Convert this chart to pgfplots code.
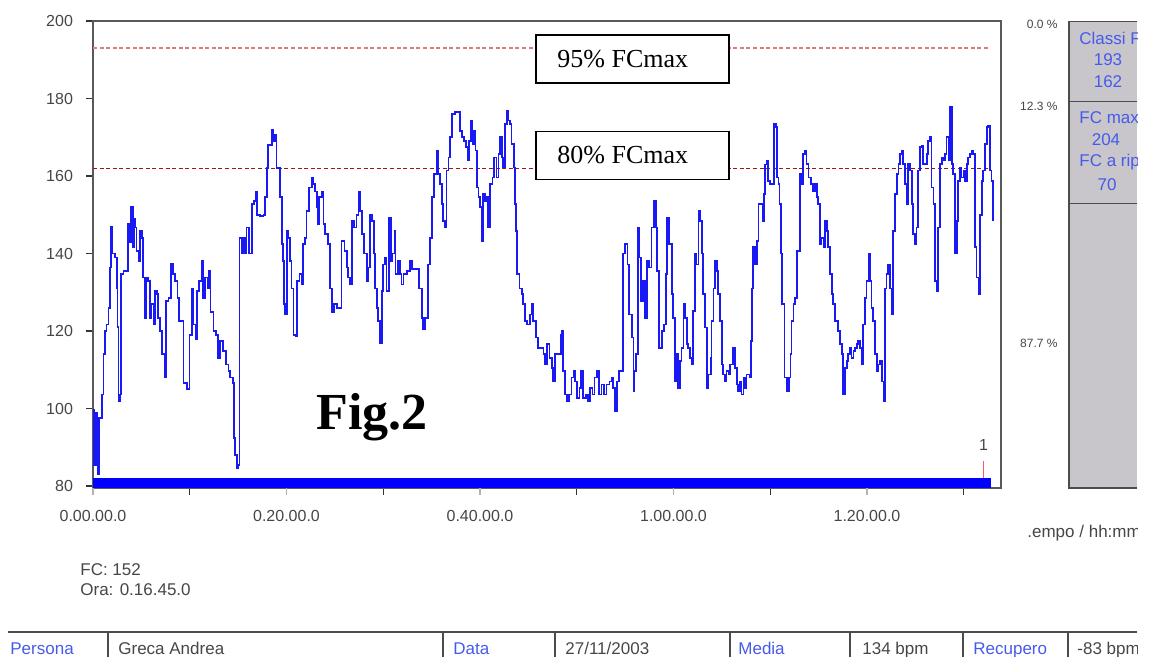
\documentclass[border=0pt]{standalone}
\usepackage{pgfplots}
\pgfplotsset{compat=1.18}
\usepackage{fontspec}
\setmainfont{Liberation Sans}
\newfontfamily\timesf{Liberation Serif}
\definecolor{trace}{RGB}{25,25,245}
\definecolor{panelgray}{RGB}{200,198,203}
\definecolor{labblue}{RGB}{70,90,235}
\definecolor{txtgray}{RGB}{70,70,70}
\definecolor{hiline}{RGB}{215,125,125}
\definecolor{loline}{RGB}{160,20,20}
\begin{document}
\begin{tikzpicture}
\begin{axis}[
  at={(46.5pt,-244pt)}, anchor=south west,
  scale only axis, width=454pt, height=233.5pt,
  xmin=0, xmax=93.85, ymin=79.5, ymax=200,
  ytick={80,100,...,200},
  xtick={10,30,50,70,90}, xticklabels={},
  extra x ticks={0,20,40,60,80},
  extra x tick labels={0.00.00.0,0.20.00.0,0.40.00.0,1.00.00.0,1.20.00.0},
  extra x tick style={tick style={black!30}},
  tick align=outside, tick pos=left,
  major tick length=3.5pt,
  tick style={black!80, line width=0.7pt},
  axis line style={black!65, line width=0.9pt},
  /pgf/number format/assume math mode=true,
  ticklabel style={font=\fontsize{8}{9}\selectfont, text=txtgray},
  yticklabel style={xshift=-3pt},
  xticklabel style={yshift=-4pt},
  clip=true,
]
% zone lines
\addplot[hiline, line width=0.7pt, dash pattern=on 2pt off 1.3pt] coordinates {(0,193) (92.7,193)};
\addplot[loline, line width=0.75pt, dash pattern=on 2pt off 1.3pt] coordinates {(0,162) (92.7,162)};
% time band
\addplot[fill=blue, draw=none] coordinates {(0,82.2) (92.82,82.2)} \closedcycle;
% marker 1
\addplot[red!65, line width=0.5pt] coordinates {(92.06,82.2) (92.06,86.4)};
% heart rate trace
\addplot[trace, line width=0.85pt, const plot] coordinates {
(0.00,99.7) (0.10,85.5) (0.31,99) (0.45,83) (0.65,97.6) (0.90,103.6) (1.07,114) (1.24,120) (1.41,121.7) (1.59,126) (1.76,136.4) (1.86,147) (2.03,140) (2.27,139) (2.45,131) (2.52,121) (2.65,102) (2.79,103.6) (2.89,134.7) (3.14,135.5) (3.48,135.5) (3.65,147.6) (3.82,143) (3.93,152) (4.10,141.6) (4.24,149) (4.38,146.7) (4.51,140.7) (4.69,138) (4.86,145.9) (5.03,144) (5.20,133.8) (5.31,123.4) (5.48,133.8) (5.72,133) (5.89,123.4) (6.06,127) (6.24,121.7) (6.41,130.3) (6.58,129.5) (6.75,123.4) (6.93,120) (7.10,114) (7.27,114) (7.44,108) (7.55,127.8) (7.79,128.6) (8.03,137.4) (8.30,134.7) (8.48,133) (8.72,128.6) (8.92,122.6) (9.16,122.6) (9.34,106.6) (9.68,105) (9.96,119) (10.20,131) (10.37,121.7) (10.65,118) (10.78,130.3) (10.99,133) (11.23,138) (11.40,128.6) (11.58,133.8) (11.82,131) (12.02,135.5) (12.16,125) (12.44,120) (12.71,119) (12.95,113) (13.13,117.4) (13.47,114.8) (13.75,111.4) (13.99,109.7) (14.16,108) (14.44,106.6) (14.57,92.4) (14.71,88) (14.85,84.7) (15.02,85.5) (15.13,144) (15.37,140) (15.54,144) (15.71,140) (15.88,146.7) (16.16,140) (16.40,152.8) (16.64,153.6) (16.81,155.8) (16.92,150) (17.26,149.7) (17.61,150) (17.78,154.5) (17.95,162) (18.12,168) (18.30,168) (18.47,172) (18.64,169) (18.81,170.7) (18.98,162) (19.16,162) (19.33,154.5) (19.50,142.4) (19.67,138) (19.74,127) (19.88,124.3) (20.02,145.9) (20.19,144) (20.36,138) (20.53,131) (20.71,119) (20.95,118.7) (21.12,133) (21.33,134.7) (21.57,132) (21.74,142.4) (21.91,144) (22.08,151) (22.36,157) (22.60,159.6) (22.77,158) (22.95,156) (23.12,152) (23.29,147.6)
(23.36,154.5) (23.64,156) (23.81,147.6) (23.98,145) (24.26,142.4) (24.50,131) (24.67,125) (24.94,127) (25.19,126) (25.53,126) (25.70,143.3) (25.98,140.7) (26.22,136.4) (26.39,133.8) (26.56,132) (26.80,148.4) (27.01,146.7) (27.25,150) (27.43,156) (27.63,151) (27.77,145) (28.04,140) (28.29,133) (28.46,136.4) (28.63,150) (28.87,148.4) (29.01,140) (29.15,131) (29.32,126) (29.49,122.6) (29.66,117) (29.84,130.3) (30.01,137.2) (30.18,139) (30.35,130.3) (30.59,149.3) (30.80,138) (30.97,140) (31.15,145.9) (31.28,134.7) (31.56,138) (31.73,134.7) (31.90,132) (32.08,134.7) (32.42,135.5) (32.77,138) (32.94,136) (33.45,136) (33.70,131) (33.97,123.4) (34.14,120.4) (34.32,123.4) (34.59,137.2) (34.83,144) (35.07,154.5) (35.28,160.5) (35.52,166.6) (35.69,160.5) (35.87,158) (36.04,152.8) (36.21,148.4) (36.38,146.7) (36.55,161.4) (36.73,164.8) (36.90,170) (37.14,176) (37.42,176.5) (37.76,176.5) (37.93,171.7) (38.11,170) (38.35,169) (38.52,167.4) (38.73,164) (38.86,169) (39.04,174.3) (39.21,168.3) (39.38,171.7) (39.55,166.6) (39.69,157) (39.83,154.5) (40.03,152) (40.17,143.3) (40.34,155.3) (40.52,153.6) (40.69,154.5) (40.86,146.7) (41.03,158) (41.28,159.6) (41.48,164.8) (41.72,159.6) (41.90,165.7) (42.07,170) (42.24,164.8) (42.41,162.2) (42.58,173.4) (42.76,176.9) (42.93,174.3) (43.10,173.4) (43.27,168.3) (43.48,162.2) (43.62,152.8) (43.72,145.9) (43.86,134.7) (44.07,131) (44.31,129.5) (44.48,127) (44.65,122.6) (44.89,121.7) (45.17,124.3) (45.34,127) (45.51,122.6) (45.76,118.3) (46.03,115.7)
(46.55,114) (46.72,111.4) (46.96,116.6) (47.17,113) (47.41,110.5) (47.58,107) (47.75,114) (48.10,114) (48.34,119) (48.51,120) (48.61,109.7) (48.79,103.6) (48.96,101.9) (49.23,103.6) (49.47,108) (49.65,109.7) (49.82,107) (49.99,102.8) (50.27,105.3) (50.44,109.7) (50.68,102.8) (50.95,103.6) (51.13,101.9) (51.37,105.3) (51.64,103.6) (51.82,108) (52.06,109.7) (52.33,103.6) (52.57,106.2) (52.85,103.6) (53.09,106.2) (53.37,107) (53.61,108) (53.78,105.3) (53.95,99.3) (54.13,107) (54.37,109.7) (54.64,109.7) (54.81,140) (55.02,142.4) (55.23,137.2) (55.43,124.3) (55.68,118.3) (55.85,104.5) (55.95,109.7) (56.12,114) (56.30,146.7) (56.47,139) (56.64,127.8) (56.88,133) (57.05,123.4) (57.23,138) (57.50,136.4) (57.74,146.7) (57.98,153.6) (58.16,146.7) (58.33,135.5) (58.53,115.7) (58.78,120) (59.02,121.7) (59.19,134.7) (59.36,149.3) (59.57,142.4) (59.81,129.5) (59.98,123.4) (60.15,107) (60.33,114) (60.50,105.3) (60.67,112.2) (60.84,115.7) (61.02,127) (61.19,123.4) (61.36,116.6) (61.53,115.7) (61.71,113) (61.88,111.4) (62.05,125.2) (62.22,140) (62.39,137.2) (62.57,151) (62.74,148.4) (62.91,140) (63.08,129.5) (63.25,120.9) (63.43,105.3) (63.60,108.8) (63.84,113) (63.94,122.6) (64.12,131) (64.29,138) (64.46,135.5) (64.63,129.5) (64.81,122.6) (64.98,111.4) (65.15,108.8) (65.32,107) (65.49,109.7) (65.67,108.8) (65.84,111.4) (66.01,111.4) (66.18,115.7) (66.36,110.5) (66.53,106.2) (66.70,104.5) (66.87,107) (67.04,103.6) (67.22,108) (67.39,105.3) (67.56,108.8) (67.84,108) (67.98,117.4) (68.11,131) (68.25,141.6) (68.42,137.2) (68.60,143.3) (68.77,152.8) (69.01,152.8) (69.22,148.4) (69.35,155.3) (69.49,163) (69.63,164) (69.80,158.8)
(69.97,158) (70.21,158) (70.39,173.4) (70.56,172.6) (70.70,159.6) (70.84,158) (70.97,152.8) (71.11,140) (71.25,127) (71.46,108) (71.70,104.5) (71.94,108) (72.08,114) (72.21,122.6) (72.39,127) (72.56,128.6) (72.73,140.7) (72.90,140.7) (73.07,160.5) (73.25,158) (73.42,165.7) (73.59,166.6) (73.76,163.1) (73.94,159.6) (74.21,158) (74.45,156.2) (74.62,158) (74.80,154.5) (74.97,152.8) (75.14,142.4) (75.31,144) (75.49,141.6) (75.66,148.4) (75.83,145.9) (76.00,141.6) (76.17,134.7) (76.35,129.5) (76.52,127) (76.69,122.6) (76.97,120) (77.21,116.6) (77.38,114) (77.55,103.6) (77.73,110.5) (77.90,112.2) (78.07,114) (78.24,115.7) (78.41,113) (78.59,114.8) (78.76,115.7) (78.93,116.6) (79.10,117.4) (79.28,115.7) (79.45,111.4) (79.62,121.7) (79.79,128.6) (79.96,133) (80.14,140) (80.31,133) (80.48,126) (80.65,122.6) (80.83,114) (81.00,109.7) (81.17,111.4) (81.34,112.2) (81.52,107) (81.69,101.9) (81.86,131) (82.03,134.7) (82.20,137.2) (82.38,131) (82.55,124.3) (82.72,145.9) (82.89,155.3) (83.07,160.5) (83.24,163.1) (83.41,165.7) (83.58,166.6) (83.75,163.1) (83.93,158) (84.10,152.8) (84.27,163.1) (84.44,161.4) (84.62,152.8) (84.79,145) (84.96,142.4) (85.13,146.7) (85.30,161.4) (85.48,167.4) (85.65,167.8) (85.82,163.1) (85.99,163.1) (86.17,165.7) (86.34,169.1) (86.51,170) (86.68,157) (86.86,152.8) (87.03,133) (87.20,130.3) (87.37,146.7) (87.54,163.1) (87.72,164.8) (87.89,164) (88.06,165.7) (88.23,170) (88.41,164) (88.58,177.8) (88.75,163.1) (88.92,160.5) (89.09,140) (89.27,148.4) (89.44,158.8) (89.61,162.2) (89.78,159.6) (89.96,161.4) (90.13,158.8) (90.30,163.1) (90.47,164.8) (90.65,165.7) (90.82,166.6) (90.99,165.7) (91.16,141.6) (91.33,133.8) (91.51,129.5) (91.68,150) (91.85,158.8) (92.02,161.4) (92.19,168.3) (92.37,172.6) (92.54,173) (92.71,161.4) (92.88,158.8) (92.99,148.4)
};
\node[font=\fontsize{8}{9}\selectfont, text=txtgray] at (axis cs:92.06,90.6) {1};
\end{axis}
\begin{scope}[x=0.5pt, y=-0.5pt]
% annotation boxes
\draw[line width=0.75pt, fill=white] (536,35) rectangle (729,83);
\node[anchor=west, inner sep=0pt] at (557,59) {\timesf\fontsize{13}{15}\selectfont 95\% FCmax};
\draw[line width=0.75pt, fill=white] (536,131.5) rectangle (729,179.5);
\node[anchor=west, inner sep=0pt] at (557,155.5) {\timesf\fontsize{13}{15}\selectfont 80\% FCmax};
\node[anchor=base west, inner sep=0pt] at (316,430) {\timesf\bfseries\fontsize{26}{30}\selectfont Fig.2};
% percentages
\node[anchor=east, inner sep=0pt, text=txtgray, font=\fontsize{6}{7}\selectfont] at (1058,24) {0.0 \%};
\node[anchor=east, inner sep=0pt, text=txtgray, font=\fontsize{6}{7}\selectfont] at (1058,106) {12.3 \%};
\node[anchor=east, inner sep=0pt, text=txtgray, font=\fontsize{6}{7}\selectfont] at (1058,343) {87.7 \%};
% side panel
\fill[panelgray] (1069,21.5) rectangle (1137,488);
\draw[black!70, line width=0.75pt] (1137,21.5) -- (1069,21.5) -- (1069,488) -- (1137,488);
\draw[black!70, line width=0.75pt] (1069,101.5) -- (1137,101.5);
\draw[black!70, line width=0.75pt] (1069,203.5) -- (1137,203.5);
\begin{scope}
\clip (1069,0) rectangle (1137,657);
\begin{scope}[every node/.style={inner sep=0pt, text=labblue, font=\fontsize{8.5}{10}\selectfont}]
\node[anchor=west] at (1079,38) {Classi FC};
\node at (1108,60) {193};
\node at (1108,82) {162};
\node[anchor=west] at (1079,118) {FC max};
\node at (1106,140) {204};
\node[anchor=west] at (1079,162) {FC a rip};
\node at (1107,185) {70};
\end{scope}
\end{scope}
% x axis title and info
\begin{scope}
\clip (1020,510) rectangle (1137,560);
\node[anchor=west, inner sep=0pt, text=txtgray, font=\fontsize{8.5}{10}\selectfont] at (1027,533) {.empo / hh:mm};
\end{scope}
\node[anchor=west, inner sep=0pt, text=txtgray, font=\fontsize{8.5}{10}\selectfont] at (80,570) {FC: 152};
\node[anchor=west, inner sep=0pt, text=txtgray, font=\fontsize{8.5}{10}\selectfont] at (80,590) {Ora: 0.16.45.0};
% bottom table
\draw[black!70, line width=0.75pt] (8,632) -- (1137,632);
\foreach \xx in {108,443,555,730,850,963,1068} {\draw[black!70, line width=0.75pt] (\xx,632) -- (\xx,660);}
\begin{scope}[every node/.style={anchor=base west, inner sep=0pt, font=\fontsize{8.5}{10}\selectfont}]
\node[text=labblue] at (10,655) {Persona};
\node[text=txtgray] at (118,655) {Greca Andrea};
\node[text=labblue] at (453,655) {Data};
\node[text=txtgray] at (565,655) {27/11/2003};
\node[text=labblue] at (738,655) {Media};
\node[text=txtgray] at (862,655) {134 bpm};
\node[text=labblue] at (973,655) {Recupero};
\begin{scope}
\clip (1069,600) rectangle (1137,660);
\node[text=txtgray] at (1077,655) {-83 bpm};
\end{scope}
\end{scope}
\pgfresetboundingbox
\path[use as bounding box] (0,0) rectangle (1153,657);
\end{scope}
\end{tikzpicture}
\end{document}
